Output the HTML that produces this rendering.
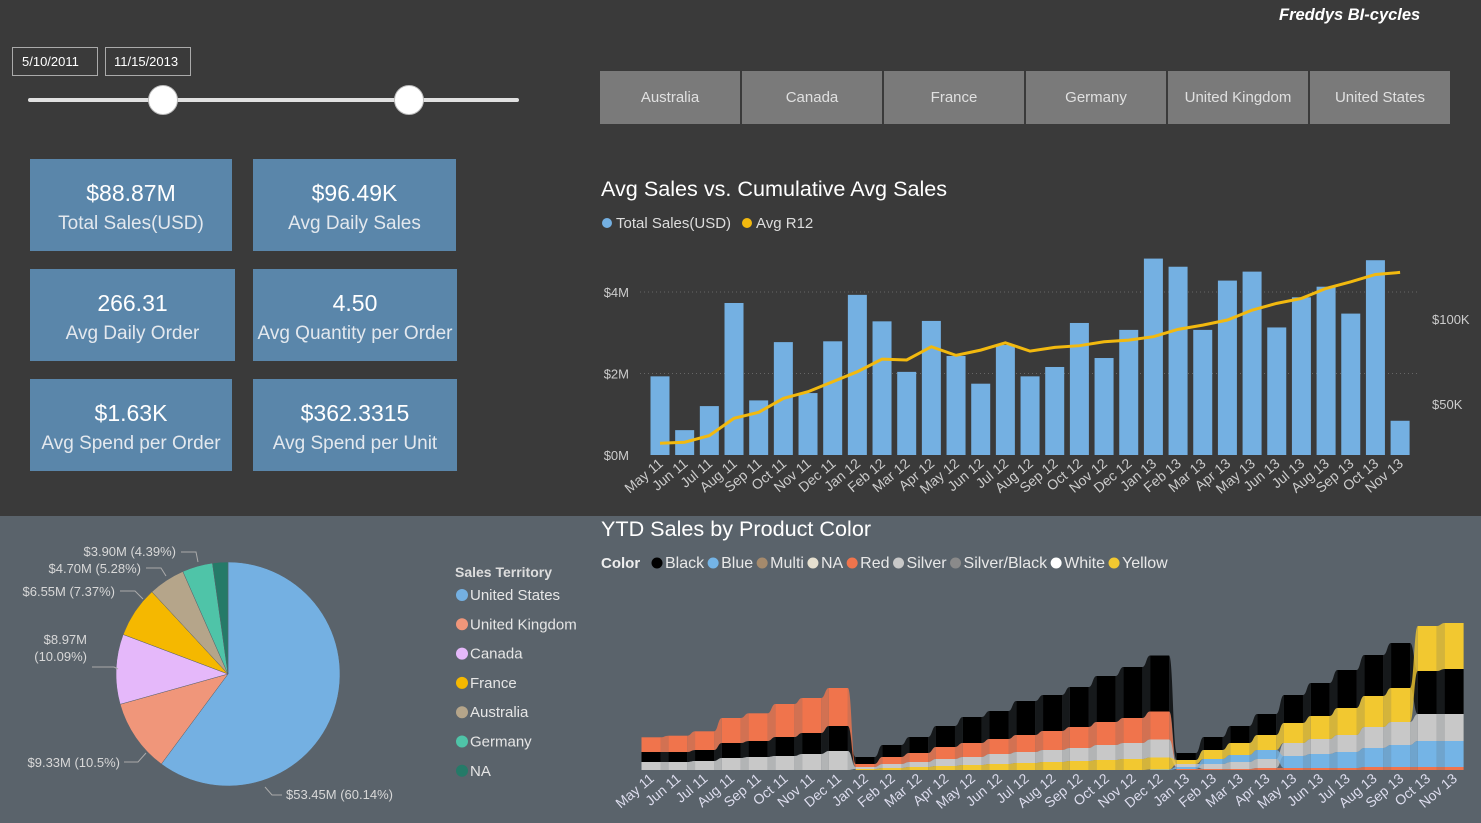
<!DOCTYPE html>
<html><head><meta charset="utf-8"><style>
body{margin:0;width:1481px;height:823px;overflow:hidden;background:#3a3a3a;font-family:"Liberation Sans",sans-serif;position:relative}
.abs{position:absolute}
.card{position:absolute;background:#5a86aa;color:#fff;text-align:center}
.card .v{font-size:23px;margin-top:21px}
.card .l{font-size:19px;color:#e3e8ee;margin-top:6px}
.btn{position:absolute;top:71px;height:53px;width:140px;background:#7a7a7a;color:#e0e0e0;font-size:15px;line-height:53px;text-align:center}
</style></head><body>
<div class="abs" style="left:0;top:516px;width:1481px;height:307px;background:#5a636b"></div>
<div class="abs" style="left:1279px;top:6px;color:#fff;font-weight:bold;font-style:italic;font-size:16.5px">Freddys BI-cycles</div>
<div class="abs" style="left:12px;top:47px;width:84px;height:27px;border:1px solid #aaa;color:#fff;font-size:13px;line-height:27px;text-indent:9px">5/10/2011</div>
<div class="abs" style="left:105px;top:47px;width:84px;height:27px;border:1px solid #aaa;color:#fff;font-size:13px;line-height:27px;text-indent:8px">11/15/2013</div>
<div class="abs" style="left:28px;top:98px;width:491px;height:4px;background:#e0e0e0;border-radius:2px"></div>
<div class="abs" style="left:148px;top:85px;width:28px;height:28px;border-radius:50%;background:#fff;border:1px solid #bbb"></div>
<div class="abs" style="left:394px;top:85px;width:28px;height:28px;border-radius:50%;background:#fff;border:1px solid #bbb"></div>

<div class="card" style="left:30px;top:159px;width:202px;height:92px"><div class="v">$88.87M</div><div class="l">Total Sales(USD)</div></div>
<div class="card" style="left:253px;top:159px;width:203px;height:92px"><div class="v">$96.49K</div><div class="l">Avg Daily Sales</div></div>
<div class="card" style="left:30px;top:269px;width:205px;height:92px"><div class="v">266.31</div><div class="l">Avg Daily Order</div></div>
<div class="card" style="left:253px;top:269px;width:204px;height:92px"><div class="v">4.50</div><div class="l">Avg Quantity per Order</div></div>
<div class="card" style="left:30px;top:379px;width:202px;height:92px"><div class="v">$1.63K</div><div class="l">Avg Spend per Order</div></div>
<div class="card" style="left:253px;top:379px;width:204px;height:92px"><div class="v">$362.3315</div><div class="l">Avg Spend per Unit</div></div>

<div class="btn" style="left:600px">Australia</div>
<div class="btn" style="left:742px">Canada</div>
<div class="btn" style="left:884px">France</div>
<div class="btn" style="left:1026px">Germany</div>
<div class="btn" style="left:1168px">United Kingdom</div>
<div class="btn" style="left:1310px">United States</div>

<svg class="abs" style="left:0;top:0" width="1481" height="823" id="svg" font-family="Liberation Sans, sans-serif"></svg>
<script>
const months=["May 11","Jun 11","Jul 11","Aug 11","Sep 11","Oct 11","Nov 11","Dec 11","Jan 12","Feb 12","Mar 12","Apr 12","May 12","Jun 12","Jul 12","Aug 12","Sep 12","Oct 12","Nov 12","Dec 12","Jan 13","Feb 13","Mar 13","Apr 13","May 13","Jun 13","Jul 13","Aug 13","Sep 13","Oct 13","Nov 13"];
const salesM=[1.93,0.61,1.20,3.73,1.34,2.77,1.52,2.79,3.93,3.28,2.04,3.29,2.43,1.75,2.70,1.93,2.16,3.24,2.38,3.07,4.82,4.62,3.07,4.28,4.50,3.13,3.87,4.13,3.47,4.78,0.84];
const avgR12K=[26.9,27.5,31.4,41.6,45.1,53.3,57.2,63.1,69.0,76.4,75.9,83.7,78.6,81.7,86.0,81.1,83.3,84.3,86.6,87.6,89.6,93.9,96.4,99.4,105.2,109.2,112.1,118.0,121.9,126.2,127.4];
const leftTicks=[0,2,4];
const leftTickLabels=["$0M","$2M","$4M"];
const rightTicks=[50,100];
const rightTickLabels=["$50K","$100K"];
const colorNames=["Black","Blue","Multi","NA","Red","Silver","Silver/Black","White","Yellow"];
const colorHex={Black:"#000",Blue:"#74b4e6",Multi:"#a58a6c",NA:"#e6e0d0",Red:"#f0744c",Silver:"#c8c8c8","Silver/Black":"#8a8a8a",White:"#fff",Yellow:"#f2c830"};
const ytdBlack=[10,10,11,15,16,19,21,25,7,12,16,21,26,28,34,36,40,46,51,56,7,13,17,21,28,33,38,41,45,43,45];
const ytdRed=[14.7,16.3,18.7,25,27.7,33,35,38,3,7,9,12,14,15,17,19,21,23,25,28,1,1,1,2,2,2,2,3,3,3,3];
const ytdSilver=[8,8,9,12,13,14,16,19,2,4,5,7,8,10,11,12,13,15,16,18,3,5,7,9,13,15,17,21,23,27,27];
const ytdYellow=[0,0,0,0,0,0,0,0,1,2,3,4,5,6,7,8,9,10,11,12,4,9,12,15,20,23,27,31,34,45,46];
const ytdBlue=[0,0,0,0,0,0,0,0,0,0,0,0,0,0,0,0,0,0,0,0.5,2,5,7,9,12,14,16,19,22,26,26];
const pieLabels=["United States","United Kingdom","Canada","France","Australia","Germany","NA"];
const pieValues=[53.45,9.33,8.97,6.55,4.70,3.90,1.97];
const pieColors=["#74b0e2","#f0967a","#e5b8fa","#f5b800","#b5a58a","#4fc4a8","#257a68"];

const S=document.getElementById('svg');const NS="http://www.w3.org/2000/svg";
function mk(t,a,p){const e=document.createElementNS(NS,t);for(const k in a)e.setAttribute(k,a[k]);(p||S).appendChild(e);return e;}
function txt(x,y,s,a){const e=mk('text',Object.assign({x:x,y:y},a));e.textContent=s;return e;}

// ---- Combo chart
let t=txt(601,196,"Avg Sales vs. Cumulative Avg Sales",{fill:"#fff","font-size":21.6});


let lg=mk('g',{});


mk('circle',{cx:607,cy:223,r:5,fill:"#74b0e2"},lg);txt(616,228,"Total Sales(USD)",{fill:"#ddd","font-size":15},lg);
mk('circle',{cx:747,cy:223,r:5,fill:"#f2b90f"},lg);txt(756,228,"Avg R12",{fill:"#ddd","font-size":15},lg);
const x0=660,step=24.67,bw=19;
const xb=i=>x0+i*step;
const yL=v=>455-v*40.75;
const yR=v=>489-v*1.7;
leftTicks.forEach((v,i)=>{
  if(v>0){let g=mk('line',{x1:640,x2:1420,y1:yL(v),y2:yL(v),stroke:"#666","stroke-dasharray":"1 3"});}
  let e=txt(629,yL(v)+5,leftTickLabels[i],{fill:"#ccc","font-size":13,"text-anchor":"end"});
  
  
});
rightTicks.forEach((v,i)=>{
  let e=txt(1432,yR(v)+5,rightTickLabels[i],{fill:"#ccc","font-size":13});
  
  
});
salesM.forEach((v,i)=>{
  let r=mk('rect',{x:xb(i)-bw/2,y:yL(v),width:bw,height:455-yL(v),fill:"#74b0e2"});
  
  
});
let pl=mk('polyline',{points:avgR12K.map((v,i)=>xb(i)+","+yR(v)).join(" "),fill:"none",stroke:"#f2b90f","stroke-width":3});


months.forEach((m,i)=>{
  let e=txt(0,0,m,{fill:"#ccc","font-size":14,"text-anchor":"end",transform:`translate(${xb(i)+4},465) rotate(-40)`});
  
  
});

// ---- Ribbon chart
t=txt(601,536,"YTD Sales by Product Color",{fill:"#fff","font-size":21.6});


lg=mk('g',{});


txt(601,568,"Color",{fill:"#eee","font-size":15,"font-weight":"bold"},lg);
let lx=651;
colorNames.forEach(c=>{
  mk('circle',{cx:lx+6,cy:563,r:5.5,fill:colorHex[c]},lg);
  let e=txt(lx+14,568,c,{fill:"#e8e8e8","font-size":16},lg);
  lx+=14+e.getComputedTextLength()+3;
});
const series={Black:ytdBlack,Red:ytdRed,Silver:ytdSilver,Yellow:ytdYellow,Blue:ytdBlue};
const rx0=651,rstep=26.77,rw=19,base=770,k=1;
const ry=v=>v*k;
const stacks=months.map((m,i)=>{
  const items=Object.keys(series).map(n=>({n:n,v:series[n][i]})).filter(o=>o.v>0).sort((a,b)=>a.v-b.v);
  let acc=0;const pos={};items.forEach(o=>{pos[o.n]=[base-ry(acc),base-ry(acc+o.v)];acc+=o.v;});return pos;
});
for(let i=0;i<months.length-1;i++){
  const a=stacks[i],b=stacks[i+1];
  const xa=rx0+i*rstep+rw/2,xc=rx0+(i+1)*rstep-rw/2,xm=(xa+xc)/2;
  Object.keys(series).forEach(n=>{
    if(!a[n]||!b[n])return;
    const d=`M${xa},${a[n][1]} C${xm},${a[n][1]} ${xm},${b[n][1]} ${xc},${b[n][1]} L${xc},${b[n][0]} C${xm},${b[n][0]} ${xm},${a[n][0]} ${xa},${a[n][0]}Z`;
    let p=mk('path',{d:d,fill:colorHex[n],opacity:n==="Black"?0.75:0.8});
    
    
  });
}
stacks.forEach((st,i)=>{
  Object.keys(st).forEach(n=>{
    let r=mk('rect',{x:rx0+i*rstep-rw/2,y:st[n][1],width:rw,height:st[n][0]-st[n][1],fill:colorHex[n]});
    
    
  });
});
months.forEach((m,i)=>{
  let e=txt(0,0,m,{fill:"#dde","font-size":14,"text-anchor":"end",transform:`translate(${rx0+i*rstep+4},780) rotate(-40)`});
  
  
});

// ---- Pie
const cx=228,cy=674,R=112;
const tot=pieValues.reduce((a,b)=>a+b,0);
let ang=0;
pieValues.forEach((v,i)=>{
  const a0=ang,a1=ang+v/tot*2*Math.PI;ang=a1;
  const p0=[cx+R*Math.sin(a0),cy-R*Math.cos(a0)],p1=[cx+R*Math.sin(a1),cy-R*Math.cos(a1)];
  let p=mk('path',{d:`M${cx},${cy} L${p0[0]},${p0[1]} A${R},${R} 0 ${a1-a0>Math.PI?1:0} 1 ${p1[0]},${p1[1]}Z`,fill:pieColors[i],stroke:"#5a636b","stroke-width":0.5});
  
  
});
const pl2=[["$53.45M (60.14%)",286,799,"start","M265,787 L272,795 L282,795"],["$9.33M (10.5%)",120,767,"end","M124,762 L138,762 L146,753"],["$8.97M",87,644,"end","M92,667 L114,667 L118,669"],["(10.09%)",87,661,"end",""],["$6.55M (7.37%)",115,596,"end","M120,591 L135,591 L143,599"],["$4.70M (5.28%)",141,573,"end","M146,568 L161,568 L166,576"],["$3.90M (4.39%)",176,556,"end","M181,552 L196,552 L198,562"]];
pl2.forEach(o=>{
  let e=txt(o[1],o[2],o[0],{fill:"#d8d8d8","font-size":13,"text-anchor":o[3]});
  
  
  if(o[4])mk('path',{d:o[4],fill:"none",stroke:"#aaa","stroke-width":1});
});
lg=mk('g',{});


txt(455,577,"Sales Territory",{fill:"#ddd","font-size":14,"font-weight":"bold"},lg);
pieLabels.forEach((n,i)=>{
  const y=595+i*29.3;
  mk('circle',{cx:462,cy:y,r:6,fill:pieColors[i]},lg);
  txt(470,y+5,n,{fill:"#e6e6e6","font-size":15},lg);
});
</script>
</body></html>
